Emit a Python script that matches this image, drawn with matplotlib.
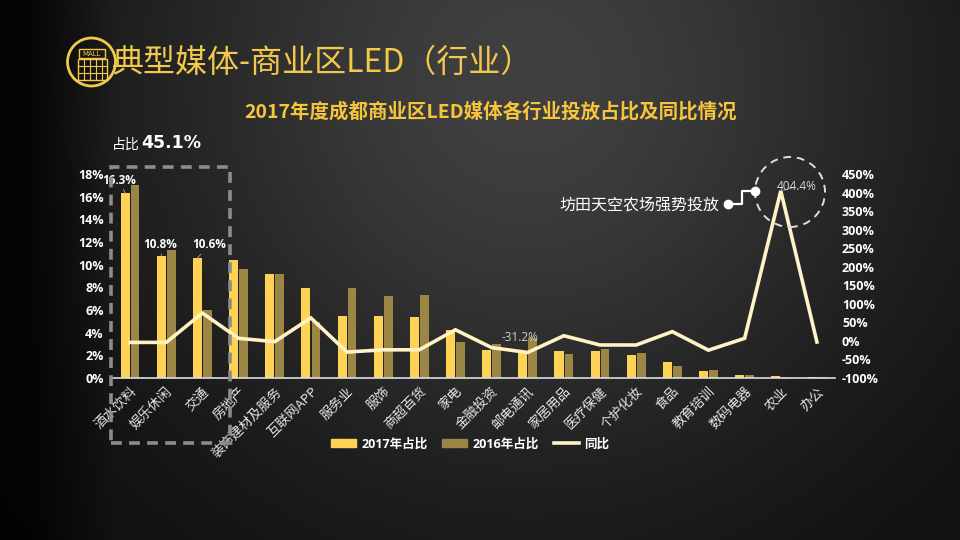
import numpy as np
import matplotlib
matplotlib.use('Agg')
import matplotlib.pyplot as plt
from matplotlib.patches import Rectangle, Ellipse, Patch
from matplotlib.lines import Line2D

plt.rcParams['font.family'] = ['Noto Sans CJK SC', 'DejaVu Sans']

categories = ['酒水饮料', '娱乐休闲', '交通', '房地产', '装饰建材及服务', '互联网APP',
              '服务业', '服饰', '商超百货', '家电', '金融投资', '邮电通讯', '家居用品',
              '医疗保健', '个护化妆', '食品', '教育培训', '数码电器', '农业', '办公']
share_2017 = [16.3, 10.8, 10.6, 10.4, 9.2, 7.9, 5.5, 5.5, 5.4, 4.2,
              2.5, 2.4, 2.4, 2.4, 2.0, 1.4, 0.6, 0.3, 0.2, 0.1]
share_2016 = [17.0, 11.3, 6.0, 9.6, 9.2, 4.9, 7.9, 7.2, 7.3, 3.2,
              3.0, 3.5, 2.1, 2.6, 2.2, 1.1, 0.7, 0.3, 0.1, 0.05]
yoy = [-4, -4, 75, 7, -2, 62, -30, -24, -24, 30,
       -18, -31.2, 14, -11, -11, 25, -25, 7, 404.4, -3]
left_ticks = [0, 2, 4, 6, 8, 10, 12, 14, 16, 18]
right_ticks = [-100, -50, 0, 50, 100, 150, 200, 250, 300, 350, 400, 450]

W, H = 960, 540
C17 = '#FDD255'
C16 = '#9C8645'
CLINE = '#FFF2C6'
GOLD = '#F3C94C'

def fx(x):
    return x / W

def fy(y):
    return 1 - y / H

fig = plt.figure(figsize=(9.6, 5.4), dpi=100)

# background gradient
bg = fig.add_axes([0, 0, 1, 1], zorder=-10)
xx, yy = np.meshgrid(np.linspace(0, 1, 480), np.linspace(0, 1, 270))
g = 0.05 + 0.20 * np.exp(-(((xx - 0.55) / 0.42) ** 2 + ((yy - 0.15) / 0.75) ** 2))
g = g * np.clip(xx / 0.12, 0.25, 1.0)
img = np.dstack([g, g, g])
bg.imshow(img, aspect='auto', extent=[0, 1, 0, 1], origin='upper')
bg.set_axis_off()

ax = fig.add_axes([fx(112), fy(378), (835 - 112) / W, (378 - 174) / H])
ax.patch.set_alpha(0)
x = np.arange(len(categories))
ax.bar(x - 0.135, share_2017, width=0.25, color=C17, zorder=2)
ax.bar(x + 0.14, share_2016, width=0.24, color=C16, zorder=2)
ax.set_xlim(-0.5, len(categories) - 0.5)
ax.set_ylim(0, 18)
ax.set_yticks(left_ticks)
ax.set_yticklabels([f'{t}%' for t in left_ticks], color='white',
                   fontsize=9, fontweight='bold', family=['Open Sans', 'DejaVu Sans'])
ax.set_xticks(x)
ax.set_xticklabels(categories, rotation=45, ha='right', rotation_mode='anchor',
                   color='#e6e6e6', fontsize=9.5)
ax.tick_params(axis='y', length=0, pad=6)
ax.tick_params(axis='x', length=0, pad=5)
for s in ['top', 'left', 'right']:
    ax.spines[s].set_visible(False)
ax.spines['bottom'].set_color('#dddddd')
ax.spines['bottom'].set_linewidth(1.2)

ax2 = ax.twinx()
ax2.patch.set_alpha(0)
ax2.plot(x, yoy, color=CLINE, lw=2.6, solid_joinstyle='miter', zorder=3)
ax2.set_ylim(-100, 450)
ax2.set_yticks(right_ticks)
ax2.set_yticklabels([f'{t}%' for t in right_ticks], color='white',
                    fontsize=9, fontweight='bold', family=['Open Sans', 'DejaVu Sans'])
ax2.tick_params(axis='y', length=0, pad=5)
for s in ax2.spines.values():
    s.set_visible(False)

# data labels
lab_kw = dict(textcoords='offset points', ha='center', va='center', color='white',
              fontsize=8.5, fontweight='bold', family=['Open Sans', 'DejaVu Sans'],
              arrowprops=dict(arrowstyle='-', color='#aaaaaa', lw=0.6, shrinkA=4, shrinkB=0))
ax.annotate(f'{share_2017[0]}%', xy=(0 - 0.135, share_2017[0]), xytext=(-4, 9.5), **lab_kw)
ax.annotate(f'{share_2017[1]}%', xy=(1 - 0.135, share_2017[1]), xytext=(-0.7, 8), **lab_kw)
ax.annotate(f'{share_2017[2]}%', xy=(2 - 0.135, share_2017[2]), xytext=(8.6, 9.4), **lab_kw)

ax2.annotate(f'{yoy[11]}%', xy=(11, yoy[11]), xytext=(-5.8, 10.8), textcoords='offset points',
             ha='center', va='center', color='#d0d0d0', fontsize=8.5,
             family=['Open Sans', 'DejaVu Sans'])
ax2.annotate(f'{yoy[18]}%', xy=(18, yoy[18]), xytext=(11.5, 3), textcoords='offset points',
             ha='center', va='center', color='#d8d8d8', fontsize=8.5,
             family=['Open Sans', 'DejaVu Sans'],
             arrowprops=dict(arrowstyle='-', color='#aaaaaa', lw=0.6, shrinkA=3, shrinkB=2))

# dashed highlight circle
fig.add_artist(Ellipse((fx(790), fy(192)), 2 * 35 / W, 2 * 35 / H, transform=fig.transFigure,
                       fill=False, ec='#dddddd', lw=1.4, ls=(0, (4, 3))))
# annotation connector
fig.add_artist(Line2D([fx(728), fx(742), fx(742), fx(755)], [fy(204), fy(204), fy(191), fy(191)],
                      transform=fig.transFigure, color='white', lw=1.6))
fig.add_artist(Line2D([fx(728), fx(755)], [fy(204), fy(191)], transform=fig.transFigure,
                      ls='none', marker='o', ms=6, color='white'))
fig.text(fx(719), fy(205), '坊田天空农场强势投放', ha='right', va='center', color='white', fontsize=11.5)

# dashed highlight box
fig.add_artist(Rectangle((fx(111), fy(443)), (230 - 111) / W, (443 - 167) / H,
                         transform=fig.transFigure, fill=False, ec='#8c8c8c', lw=2.6,
                         ls=(0, (3, 2))))
fig.text(fx(112), fy(145), '占比', color='white', fontsize=10, va='center', ha='left')
fig.text(fx(141), fy(143), '45.1%', color='white', fontsize=12.5, fontweight='bold',
         va='center', ha='left', family=['DejaVu Sans'])

# titles
fig.text(fx(112), fy(63), '典型媒体-商业区LED（行业）', color=GOLD, fontsize=23,
         fontweight='light', va='center', ha='left')
fig.text(fx(491), fy(112), '2017年度成都商业区LED媒体各行业投放占比及同比情况', color='#F6C53C',
         fontsize=14, fontweight='heavy', va='center', ha='center')

# icon
fig.add_artist(Ellipse((fx(91.5), fy(62)), 48 / W, 48 / H, transform=fig.transFigure,
                       fill=False, ec=GOLD, lw=2))
fig.add_artist(Rectangle((fx(79), fy(58)), 26 / W, 9 / H, transform=fig.transFigure,
                         fill=False, ec=GOLD, lw=1))
fig.text(fx(92), fy(53.5), 'MALL', color=GOLD, fontsize=5, ha='center', va='center',
         family=['DejaVu Sans'])
fig.add_artist(Rectangle((fx(78), fy(80)), 29 / W, 21 / H, transform=fig.transFigure,
                         fill=False, ec=GOLD, lw=1))
for gx in [84, 90, 96, 102]:
    fig.add_artist(Line2D([fx(gx), fx(gx)], [fy(59), fy(80)], transform=fig.transFigure,
                          color=GOLD, lw=0.8))
for gy in [66, 73]:
    fig.add_artist(Line2D([fx(78), fx(107)], [fy(gy), fy(gy)], transform=fig.transFigure,
                          color=GOLD, lw=0.8))

# legend
handles = [Patch(color=C17, label='2017年占比'), Patch(color=C16, label='2016年占比'),
           Line2D([], [], color=CLINE, lw=2.6, label='同比')]
leg = fig.legend(handles=handles, loc='center', bbox_to_anchor=(fx(470), fy(444)), ncol=3,
                 frameon=False, handlelength=2.0, handleheight=0.6, columnspacing=1.2,
                 handletextpad=0.4,
                 prop=dict(family=['Open Sans', 'Noto Sans CJK SC'], weight='bold', size=9))
for t in leg.get_texts():
    t.set_color('white')

fig.savefig('out.png', dpi=100)
